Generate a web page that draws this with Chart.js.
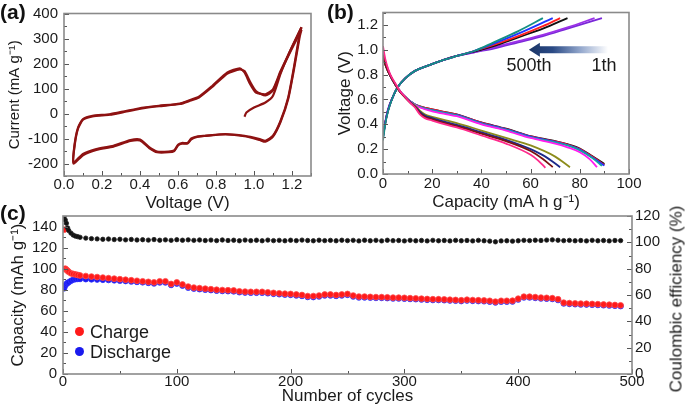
<!DOCTYPE html>
<html><head><meta charset="utf-8">
<script src="https://cdn.jsdelivr.net/npm/chart.js@4.4.1/dist/chart.umd.min.js"></script>
<style>
html,body{margin:0;padding:0;background:#fff;}
body{width:685px;height:408px;position:relative;overflow:hidden;font-family:'Liberation Sans',Arial,sans-serif;color:#111;}
canvas{position:absolute;}
.plbl{position:absolute;font-weight:bold;font-size:21px;line-height:21px;color:#111;}
.ann{position:absolute;font-size:18px;line-height:18px;transform:translate(-50%,-50%);white-space:nowrap;color:#1a1a1a;}
.leg{position:absolute;font-size:18px;line-height:18px;white-space:nowrap;color:#1a1a1a;}
.dot{position:absolute;width:9px;height:9px;border-radius:50%;}
.rtitle{position:absolute;font-size:17px;line-height:17px;white-space:nowrap;color:#1a1a1a;transform:translate(-50%,-50%) rotate(-90deg);}
</style></head><body>
<canvas id="cc" width="685" height="213" style="left:0;top:195px"></canvas>
<canvas id="ca" width="340" height="215" style="left:0;top:0"></canvas>
<canvas id="cb" width="349" height="215" style="left:336px;top:0"></canvas>
<div class="plbl" style="left:0;top:1px">(a)</div>
<div class="plbl" style="left:327px;top:1px">(b)</div>
<div class="plbl" style="left:0;top:202px">(c)</div>
<div class="ann" style="left:529px;top:65px">500th</div>
<div class="ann" style="left:604px;top:65px">1th</div>
<div class="dot" style="left:75px;top:327px;background:#ff1a1a"></div>
<div class="leg" style="left:90px;top:323px">Charge</div>
<div class="dot" style="left:75px;top:347px;background:#1a1aee"></div>
<div class="leg" style="left:90px;top:343px">Discharge</div>
<div class="rtitle" style="left:676px;top:299px">Coulombic efficiency (%)</div>
<script>
// ================= (a) cyclic voltammogram =================
const cvTailVoltage = [0.95, 0.96, 1.00, 1.06, 1.10, 1.14, 1.19, 1.25];
const cvTailCurrent = [-13, 4, 24, 44, 71, 160, 250, 345];
const cvLoopVoltage = [1.25, 1.24, 1.21, 1.18, 1.14, 1.10, 1.06, 1.03,
  0.95, 0.85, 0.74, 0.70, 0.67, 0.65, 0.62, 0.60, 0.58, 0.55,
  0.49, 0.45, 0.40, 0.35, 0.26, 0.17, 0.10, 0.05,
  0.056, 0.074, 0.10, 0.15, 0.24, 0.33, 0.42, 0.50,
  0.61, 0.66, 0.71, 0.78, 0.86, 0.925, 0.95, 0.98,
  1.01, 1.06, 1.10, 1.14, 1.19, 1.25];
const cvLoopCurrent1 = [345, 317, 184, 64, -29, -89, -109, -102,
  -89, -82, -89, -92, -100, -118, -118, -125, -148, -152,
  -152, -136, -104, -106, -129, -142, -162, -195,
  -122, -56, -22, -9, -3, 11, 24, 31,
  40, 53, 67, 110, 164, 181, 164, 117,
  84, 77, 97, 170, 250, 345];
const cvLoopCurrent2 = [335, 305, 175, 58, -33, -92, -113, -106,
  -91, -84, -90, -94, -103, -120, -121, -128, -150, -155,
  -155, -139, -108, -110, -133, -146, -167, -200,
  -128, -60, -25, -12, -5, 8, 21, 29,
  38, 50, 64, 106, 160, 176, 170, 126,
  90, 72, 92, 165, 245, 335];
const cvTicksX = [0.0, 0.2, 0.4, 0.6, 0.8, 1.0, 1.2];
const cvTicksY = [-200, -100, 0, 100, 200, 300, 400];

// ================= (b) charge / discharge profiles =================
const chg500Cap = [0,1,2,4,6,9,13,18,25,30,37,45,55,65];
const chg500V   = [0.27,0.41,0.50,0.62,0.70,0.77,0.83,0.87,0.92,0.95,0.99,1.06,1.15,1.255];
const chg400Cap = [0,1,2,4,6,9,13,18,25,30,37,45,55,69];
const chg400V   = [0.29,0.42,0.51,0.62,0.70,0.77,0.83,0.87,0.92,0.95,0.99,1.05,1.13,1.255];
const chg300Cap = [0,1,2,4,6,9,13,18,25,30,37,45,55,65,72];
const chg300V   = [0.30,0.42,0.51,0.62,0.70,0.77,0.83,0.87,0.92,0.95,0.99,1.04,1.11,1.19,1.255];
const chg200Cap = [0,1,2,4,6,9,13,18,25,30,37,45,55,65,75];
const chg200V   = [0.30,0.42,0.51,0.62,0.70,0.77,0.83,0.87,0.92,0.95,0.985,1.03,1.10,1.17,1.255];
const chg100Cap = [0,1,2,4,6,9,13,18,25,30,37,45,55,65,75,86];
const chg100V   = [0.30,0.42,0.51,0.62,0.70,0.77,0.83,0.87,0.92,0.95,0.98,1.02,1.07,1.12,1.18,1.255];
const chg1Cap   = [0,1,2,4,6,9,13,18,25,30,37,45,55,65,75,89];
const chg1V     = [0.31,0.43,0.52,0.62,0.70,0.77,0.83,0.87,0.92,0.95,0.98,1.01,1.06,1.11,1.17,1.255];

const dchUpperCap = [0,1,2,3,5,7,9,11,13,15,20,26,30,40,50,60,70,75,80,85,90];
const dchBlackV = [0.95,0.88,0.83,0.79,0.72,0.66,0.62,0.585,0.56,0.545,0.52,0.495,0.48,0.415,0.365,0.305,0.265,0.24,0.205,0.145,0.08];
const dchRedV   = [0.96,0.89,0.83,0.79,0.72,0.66,0.62,0.585,0.56,0.545,0.52,0.495,0.478,0.413,0.362,0.302,0.262,0.237,0.20,0.14,0.072];
const dchBlueV  = [0.97,0.89,0.84,0.79,0.72,0.665,0.62,0.585,0.56,0.54,0.515,0.49,0.475,0.41,0.36,0.30,0.258,0.233,0.197,0.135,0.068];
const dchTealCap = [0,1,2,3,5,7,9,11,13,15,20,26,30,40,50,60,70,75,80,85,89];
const dchTealV  = [0.98,0.90,0.84,0.79,0.72,0.665,0.62,0.585,0.56,0.54,0.512,0.487,0.472,0.405,0.355,0.295,0.255,0.23,0.19,0.13,0.065];
const dchMagCap = [0,1,2,3,5,7,9,11,13,15,20,26,30,40,50,60,70,75,80,84,87];
const dchMagV   = [0.99,0.90,0.84,0.79,0.72,0.665,0.62,0.585,0.555,0.535,0.505,0.48,0.465,0.40,0.35,0.29,0.245,0.215,0.175,0.12,0.055];
const dchOliveCap = [0,1,2,3,5,7,9,11,13,15,17,20,26,30,40,50,60,70,76];
const dchOliveV   = [0.96,0.88,0.83,0.79,0.72,0.66,0.62,0.58,0.55,0.51,0.48,0.46,0.43,0.41,0.35,0.29,0.23,0.14,0.055];
const dchNavyCap  = [0,1,2,3,5,7,9,11,13,15,17,20,26,30,40,50,60,66,72];
const dchNavyV    = [0.95,0.88,0.83,0.79,0.72,0.66,0.62,0.58,0.545,0.50,0.47,0.45,0.415,0.395,0.335,0.275,0.20,0.14,0.055];
const dchBrownCap = [0,1,2,3,5,7,9,11,13,15,17,20,26,30,40,50,60,65,69];
const dchBrownV   = [0.96,0.88,0.83,0.79,0.72,0.66,0.615,0.575,0.54,0.49,0.46,0.44,0.405,0.385,0.325,0.265,0.185,0.12,0.055];
const dchPinkCap  = [0,1,2,3,5,7,9,11,13,15,17,20,26,30,40,50,60,63,66];
const dchPinkV    = [1.03,0.92,0.85,0.80,0.73,0.665,0.62,0.575,0.535,0.48,0.45,0.43,0.395,0.375,0.31,0.245,0.155,0.11,0.05];
const gcTicksX = [0, 20, 40, 60, 80, 100];
const gcTicksY = [0.0, 0.2, 0.4, 0.6, 0.8, 1.0, 1.2];
// arrow annotation (capacity, voltage)
const arrowTipCap = 59.3, arrowTailCap = 91.5, arrowVoltage = 1.0;

// ================= (c) cycling =================
const cycles = [1,2,3,4,5,7,9,11,13,15,
  20,25,30,35,40,45,50,55,60,65,70,75,80,85,90,95,100,
  105,110,115,120,125,130,135,140,145,150,155,160,165,170,175,180,185,190,195,200,
  205,210,215,220,225,230,235,240,245,250,255,260,265,270,275,280,285,290,295,300,
  305,310,315,320,325,330,335,340,345,350,355,360,365,370,375,380,385,390,395,400,
  405,410,415,420,425,430,435,440,445,450,455,460,465,470,475,480,485,490];
const chargeCap = [137,100,99,98,97,95.6,95,94.5,94,93.5,
  93,92.5,92,91.5,91,90.5,90,89.5,89,88.5,88,87.5,87,88,88,85.5,87,
  85,83,82,81.5,81,80.5,80,79.7,79.5,79.3,78.5,78.2,78,78,78,77.5,77,76.6,76.2,76,
  75.5,75,74,74,74.5,75.5,75.5,75,75.5,76,74.5,73.5,73.5,73.2,73,73,72.8,72.5,72.5,72.3,
  72,71.8,71.5,71.2,71,71,70.8,70.5,70.3,70,70.5,70.2,70,69.8,69.5,68.7,69.5,69.5,69.6,71.5,
  73.4,73.4,73,72.5,72.3,72,71,67.7,67.3,67,66.8,66.7,66.5,66.3,66,65.8,65.5,65.2];
const dischargeCap = [81.3,84,85.5,86.5,87,88.5,89.5,90,90.2,90.2,
  90,89.8,89.6,89.4,89.2,88.9,88.6,88.2,87.8,87.4,87,86.5,86,86.8,86.8,84.5,85.8,
  83.8,82,81,80.5,80,79.6,79.1,78.8,78.6,78.4,77.6,77.3,77.1,77.1,77.1,76.6,76.1,75.7,75.3,75.1,
  74.6,74.1,73.1,73,73.6,74.6,74.6,74.1,74.6,75.1,73.6,72.7,72.7,72.4,72.2,72.2,72,71.7,71.7,71.5,
  71.2,71,70.7,70.4,70.2,70.2,70,69.7,69.5,69.2,69.7,69.4,69.2,69,68.7,67.9,68.7,68.7,68.8,70.7,
  72.6,72.6,72.2,71.7,71.5,71.2,70.2,66.9,66.5,66.2,66,65.9,65.7,65.5,65.2,65,64.7,64.4];
const coulombicEff = [119.5,117,114.5,111,109,107,105.5,104.7,104.3,103.8,
  103.2,102.8,102.6,102.3,102.5,102.1,102.3,101.9,102.2,101.8,102,101.7,102.1,101.6,101.9,101.5,102,
  101.6,101.9,101.5,101.8,101.4,101.7,101.3,101.8,101.4,101.6,101.2,101.7,101.3,101.6,101.2,101.7,101.3,101.5,101.2,101.6,
  101.3,101.7,101.4,101.2,101.6,101.3,101.5,101.2,101.6,101.3,101.5,101.1,101.6,101.2,101.5,101.1,101.6,101.3,101.4,101.1,
  101.5,101.2,101.4,101.1,101.5,101.2,101.4,101.1,101.5,101.2,101.4,101.1,101.5,101.2,100.9,100.4,101.1,101.2,100.9,101.2,
  101.5,101.3,101.6,101.4,101.7,101.9,101.6,101.3,101.5,101.2,101.4,101.1,101.5,101.2,101.4,101.1,101.4,101.3];
const cycTicksX = [0, 100, 200, 300, 400, 500];
const capTicksY = [0, 20, 40, 60, 80, 100, 120, 140];
const ceTicksY = [0, 20, 40, 60, 80, 100, 120];

// ================= helpers =================
Chart.defaults.font.family = "'Liberation Sans', Arial, sans-serif";
Chart.defaults.color = '#1a1a1a';
const pts = (xs, ys) => xs.map((x, i) => ({x: x, y: ys[i]}));
const fixTicks = arr => (s => { s.ticks = arr.map(v => ({value: v})); });
const tickFont = {size: 15, lineHeight: 1};

const frameTicks = {
  id: 'frameTicks',
  afterDraw(chart, args, opts) {
    const ctx = chart.ctx, a = chart.chartArea;
    ctx.save();
    ctx.strokeStyle = '#555'; ctx.lineWidth = 1;
    (opts.marks || []).forEach(m => {
      const s = chart.scales[m.id];
      const n = Math.round((m.max - m.min) / m.step);
      for (let i = 0; i <= n; i++) {
        const v = m.min + i * m.step;
        const major = Math.abs(v / m.major - Math.round(v / m.major)) < 1e-6;
        const len = major ? 5 : 3;
        const p = Math.round(s.getPixelForValue(v)) + 0.5;
        ctx.beginPath();
        if (s.isHorizontal()) { ctx.moveTo(p, a.bottom); ctx.lineTo(p, a.bottom - len); }
        else if (s.position === 'left') { ctx.moveTo(a.left, p); ctx.lineTo(a.left + len, p); }
        else { ctx.moveTo(a.right, p); ctx.lineTo(a.right - len, p); }
        ctx.stroke();
      }
    });
    ctx.strokeStyle = '#8a8a8a'; ctx.lineWidth = 1.6;
    ctx.strokeRect(a.left, a.top, a.right - a.left, a.bottom - a.top);
    ctx.restore();
  }
};

function axis(min, max, ticksArr, fmt, width, height, pad, title, extra) {
  const o = {
    type: 'linear', min: min, max: max,
    grid: {display: false, drawTicks: false}, border: {display: false},
    afterBuildTicks: fixTicks(ticksArr),
    ticks: {font: tickFont, padding: pad, callback: fmt, autoSkip: false, maxRotation: 0},
    title: title,
    afterFit: s => { if (width != null) s.width = width; if (height != null) s.height = height; }
  };
  return Object.assign(o, extra || {});
}

// ================= chart (a) =================
new Chart(document.getElementById('ca'), {
  type: 'scatter',
  data: {datasets: [
    {data: pts(cvTailVoltage, cvTailCurrent)},
    {data: pts(cvLoopVoltage, cvLoopCurrent1)},
    {data: pts(cvLoopVoltage, cvLoopCurrent2)}
  ].map(d => Object.assign(d, {showLine: true, borderColor: '#8e1212', borderWidth: 2.2, pointRadius: 0, tension: 0.2}))},
  options: {
    responsive: false, animation: false,
    layout: {padding: {top: 12, right: 29, left: 0, bottom: 0}},
    plugins: {legend: {display: false}, tooltip: {enabled: false},
      frameTicks: {marks: [{id: 'x', min: 0, max: 1.3, step: 0.1, major: 0.2}, {id: 'y', min: -250, max: 400, step: 50, major: 100}]}},
    scales: {
      x: axis(0, 1.3, cvTicksX, v => v.toFixed(1), null, 39, 1,
        {display: true, text: 'Voltage (V)', font: {size: 17, lineHeight: 1}, padding: {top: 0, bottom: 3.5}}),
      y: axis(-250, 400, cvTicksY, v => String(v), 64, null, 6,
        {display: true, text: 'Current (mA g⁻¹)', font: {size: 15, lineHeight: 1}, padding: {top: 7.5, bottom: 0}})
    }
  },
  plugins: [frameTicks]
});

// ================= chart (b) =================
const arrowPlugin = {
  id: 'arrowB',
  afterDatasetsDraw(chart) {
    const ctx = chart.ctx, xs = chart.scales.x, ys = chart.scales.y;
    const xt = xs.getPixelForValue(arrowTipCap), xe = xs.getPixelForValue(arrowTailCap), yc = ys.getPixelForValue(arrowVoltage);
    const g = ctx.createLinearGradient(xt, 0, xe, 0);
    g.addColorStop(0, '#1b3566'); g.addColorStop(0.3, '#2a4a85'); g.addColorStop(0.65, '#93a7cc'); g.addColorStop(1, '#ffffff');
    ctx.save(); ctx.fillStyle = g; ctx.beginPath();
    ctx.moveTo(xt, yc); ctx.lineTo(xt + 11, yc - 7); ctx.lineTo(xt + 11, yc - 3.5); ctx.lineTo(xe, yc - 3.5);
    ctx.lineTo(xe, yc + 3.5); ctx.lineTo(xt + 11, yc + 3.5); ctx.lineTo(xt + 11, yc + 7); ctx.closePath(); ctx.fill();
    ctx.restore();
  }
};
const line = (xs, ys, c) => ({data: pts(xs, ys), borderColor: c, showLine: true, borderWidth: 1.8, pointRadius: 0, cubicInterpolationMode: 'monotone'});
new Chart(document.getElementById('cb'), {
  type: 'scatter',
  data: {datasets: [
    line(dchPinkCap, dchPinkV, '#ff2a8c'),
    line(dchBrownCap, dchBrownV, '#7a1212'),
    line(dchNavyCap, dchNavyV, '#1c2a8a'),
    line(dchOliveCap, dchOliveV, '#8c8c1c'),
    line(dchMagCap, dchMagV, '#ff1cf0'),
    line(dchTealCap, dchTealV, '#13a5a0'),
    line(dchUpperCap, dchBlueV, '#2430ff'),
    line(dchUpperCap, dchRedV, '#ff1c1c'),
    line(dchUpperCap, dchBlackV, '#111111'),
    line(chg500Cap, chg500V, '#148f84'),
    line(chg400Cap, chg400V, '#2034ff'),
    line(chg300Cap, chg300V, '#ff1f1f'),
    line(chg200Cap, chg200V, '#111111'),
    line(chg100Cap, chg100V, '#9b30e8'),
    line(chg1Cap, chg1V, '#7a28d8')
  ]},
  options: {
    responsive: false, animation: false,
    layout: {padding: {top: 12, right: 56, left: 0, bottom: 0}},
    plugins: {legend: {display: false}, tooltip: {enabled: false},
      frameTicks: {marks: [{id: 'x', min: 0, max: 100, step: 10, major: 20}, {id: 'y', min: 0, max: 1.3, step: 0.1, major: 0.2}]}},
    scales: {
      x: axis(0, 100, gcTicksX, v => String(v), null, 41, 2.5,
        {display: true, text: 'Capacity (mA h g⁻¹)', font: {size: 17, lineHeight: 1}, padding: {top: 0, bottom: 4.5}}),
      y: axis(0, 1.3, gcTicksY, v => v.toFixed(1), 47, null, 5,
        {display: true, text: 'Voltage (V)', font: {size: 17, lineHeight: 1}, padding: {top: 1, bottom: 0}})
    }
  },
  plugins: [frameTicks, arrowPlugin]
});

// ================= chart (c) =================
new Chart(document.getElementById('cc'), {
  type: 'scatter',
  data: {datasets: [
    {data: pts(cycles, chargeCap), yAxisID: 'y', backgroundColor: '#ff1a1a', borderColor: '#ff4d4d', borderWidth: 0.8, pointRadius: 2.9, order: 1},
    {data: pts(cycles, dischargeCap), yAxisID: 'y', backgroundColor: '#1a1aee', borderColor: '#3030ff', borderWidth: 0.8, pointRadius: 2.8, order: 2},
    {data: pts(cycles, coulombicEff), yAxisID: 'y1', backgroundColor: '#111', borderColor: '#222', borderWidth: 0.8, pointRadius: 2.2, order: 0}
  ]},
  options: {
    responsive: false, animation: false,
    layout: {padding: {top: 21, right: 0, left: 0, bottom: 0}},
    plugins: {legend: {display: false}, tooltip: {enabled: false},
      frameTicks: {marks: [{id: 'x', min: 0, max: 500, step: 50, major: 100}, {id: 'y', min: 0, max: 150, step: 10, major: 20}, {id: 'y1', min: 0, max: 120, step: 10, major: 20}]}},
    scales: {
      x: axis(0, 500, cycTicksX, v => String(v), null, 34, 0,
        {display: true, text: 'Number of cycles', font: {size: 17, lineHeight: 1}, padding: {top: 0, bottom: 3.5}}),
      y: axis(0, 150, capTicksY, v => String(v), 63, null, 6,
        {display: true, text: 'Capacity (mAh g⁻¹)', font: {size: 17, lineHeight: 1}, padding: {top: 9.5, bottom: 0}}, {position: 'left'}),
      y1: axis(0, 120, ceTicksY, v => String(v), 53, null, 3,
        {display: false, text: 'Coulombic efficiency (%)'}, {position: 'right'})
    }
  },
  plugins: [frameTicks]
});
</script>
</body></html>
